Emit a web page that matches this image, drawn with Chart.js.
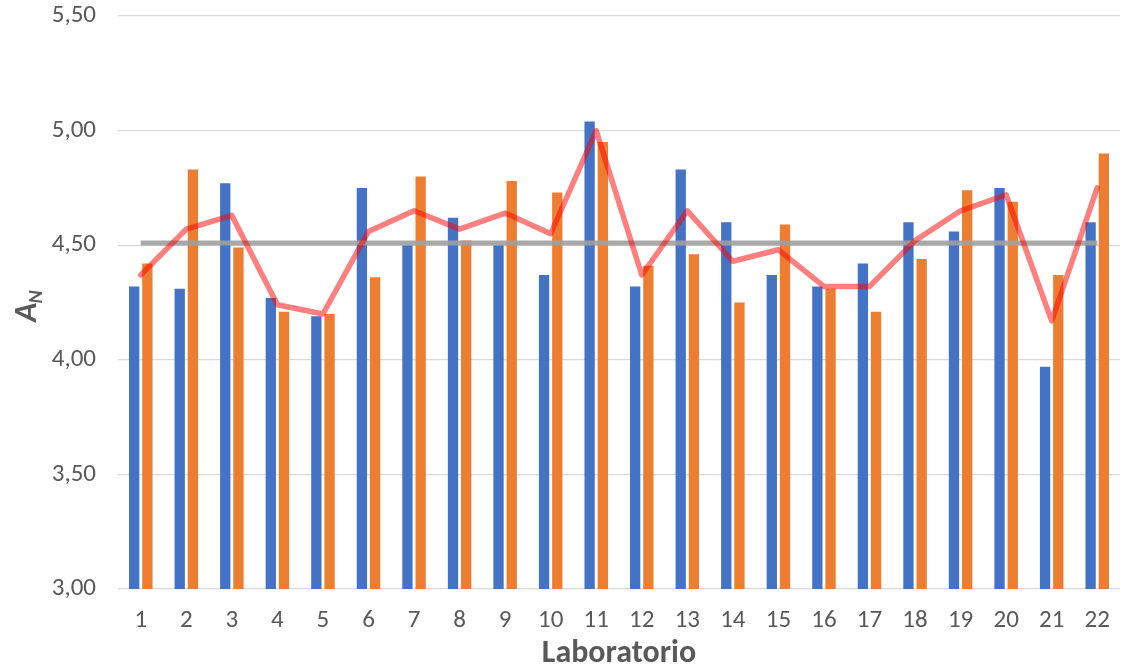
<!DOCTYPE html>
<html>
<head>
<meta charset="utf-8">
<script src="https://cdn.jsdelivr.net/npm/chart.js@4/dist/chart.umd.min.js"></script>
<style>
  html, body { margin: 0; padding: 0; background: #ffffff; }
  #wrap { width: 1122px; height: 668px; position: relative; }
</style>
</head>
<body>
<div id="wrap"><canvas id="c"></canvas></div>
<script>
// Laboratory labels on the category axis
const laboratorios = ['1','2','3','4','5','6','7','8','9','10','11','12','13','14','15','16','17','18','19','20','21','22'];

// First determination per laboratory (blue bars)
const serieA = [4.32, 4.31, 4.77, 4.27, 4.19, 4.75, 4.50, 4.62, 4.50, 4.37, 5.04,
                4.32, 4.83, 4.60, 4.37, 4.32, 4.42, 4.60, 4.56, 4.75, 3.97, 4.60];

// Second determination per laboratory (orange bars)
const serieB = [4.42, 4.83, 4.49, 4.21, 4.20, 4.36, 4.80, 4.52, 4.78, 4.73, 4.95,
                4.41, 4.46, 4.25, 4.59, 4.31, 4.21, 4.44, 4.74, 4.69, 4.37, 4.90];

// Laboratory mean (red line)
const mediaLab = [4.37, 4.57, 4.63, 4.24, 4.20, 4.56, 4.65, 4.57, 4.64, 4.55, 5.00,
                  4.37, 4.65, 4.43, 4.48, 4.32, 4.32, 4.52, 4.65, 4.72, 4.17, 4.75];

// Overall mean (grey reference line)
const mediaGeneral = [4.51, 4.51, 4.51, 4.51, 4.51, 4.51, 4.51, 4.51, 4.51, 4.51, 4.51,
                      4.51, 4.51, 4.51, 4.51, 4.51, 4.51, 4.51, 4.51, 4.51, 4.51, 4.51];

// Y axis tick values
const yTicks = [3.00, 3.50, 4.00, 4.50, 5.00, 5.50];

const FONT = 'Carlito, Calibri, "Open Sans", sans-serif';
const TEXT = '#595959';

// Axis titles: "A" with subscript "N" on the left, "Laboratorio" below
const axisTitles = {
  id: 'axisTitles',
  afterDraw(chart) {
    const ctx = chart.ctx;
    const area = chart.chartArea;
    ctx.save();
    ctx.fillStyle = TEXT;
    ctx.textBaseline = 'alphabetic';
    ctx.font = 'bold 32px ' + FONT;
    ctx.textAlign = 'center';
    ctx.fillText('Laboratorio', (area.left + area.right) / 2, 662);

    ctx.translate(36, 322);
    ctx.rotate(-Math.PI / 2);
    ctx.textAlign = 'left';
    ctx.font = 'italic bold 32px ' + FONT;
    ctx.fillText('A', 0, 0);
    const wA = ctx.measureText('A').width;
    ctx.font = 'italic bold 20px ' + FONT;
    ctx.fillText('N', wA - 1, 6);
    ctx.restore();
  }
};

new Chart(document.getElementById('c'), {
  type: 'bar',
  data: {
    labels: laboratorios,
    datasets: [
      {
        type: 'line',
        data: mediaLab,
        borderColor: 'rgba(255, 0, 0, 0.5)',
        borderWidth: 5.5,
        pointRadius: 0,
        tension: 0,
        borderJoinStyle: 'round',
        borderCapStyle: 'round',
        order: 0
      },
      {
        type: 'line',
        data: mediaGeneral,
        borderColor: 'rgba(160, 160, 160, 0.9)',
        borderWidth: 5,
        pointRadius: 0,
        tension: 0,
        order: 1
      },
      {
        data: serieA,
        backgroundColor: '#4472C4',
        categoryPercentage: 0.58,
        barPercentage: 0.78,
        order: 2
      },
      {
        data: serieB,
        backgroundColor: '#ED7D31',
        categoryPercentage: 0.58,
        barPercentage: 0.78,
        order: 2
      }
    ]
  },
  options: {
    responsive: true,
    maintainAspectRatio: false,
    animation: false,
    layout: { padding: { top: 16, right: 2, left: 0, bottom: 0 } },
    plugins: {
      legend: { display: false },
      tooltip: { enabled: false }
    },
    scales: {
      x: {
        grid: { display: false, drawTicks: false },
        border: { display: false },
        ticks: {
          color: TEXT,
          font: { family: FONT, size: 25 },
          padding: 17,
          maxRotation: 0,
          autoSkip: false
        },
        afterFit(scale) {
          scale.height = 79;
          scale.paddingLeft = 0;
          scale.paddingRight = 0;
        }
      },
      y: {
        min: 3,
        max: 5.5,
        afterBuildTicks(scale) { scale.ticks = yTicks.map(v => ({ value: v })); },
        grid: { color: '#d9d9d9', lineWidth: 1.3, drawTicks: false },
        border: { display: false },
        ticks: {
          color: TEXT,
          font: { family: FONT, size: 25 },
          padding: 22,
          callback: v => Number(v).toFixed(2).replace('.', ',')
        },
        afterFit(scale) {
          scale.width = 118;
          scale.paddingTop = 0;
          scale.paddingBottom = 0;
        }
      }
    }
  },
  plugins: [axisTitles]
});
</script>
</body>
</html>
